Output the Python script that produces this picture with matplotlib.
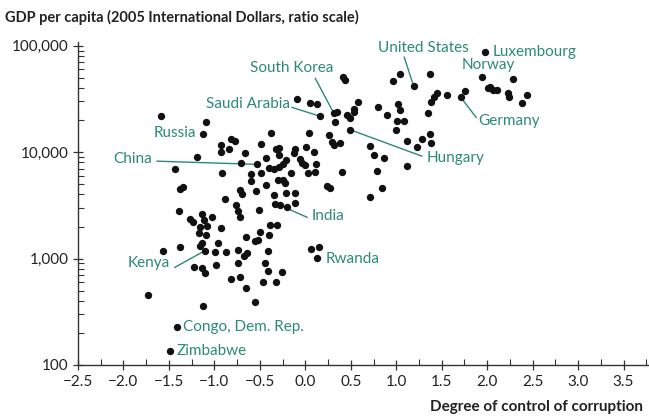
import matplotlib
matplotlib.use("Agg")
import matplotlib.pyplot as plt
from matplotlib.ticker import FixedLocator, FuncFormatter, LogLocator, MultipleLocator, NullFormatter

plt.rcParams['font.family'] = ['Lato', 'DejaVu Sans']

# control of corruption index and GDP per capita (2005 intl $)
corruption = [
    -1.586, -1.091, -1.129, -0.377, -0.923, -0.813, -0.769, -0.926, -0.835, -0.667,
    -0.484, -0.326, -0.289, -0.293, -0.432, -1.195, -0.703, -0.527, -0.209, -1.432,
    -0.920, -0.601, -0.403, -0.348, -0.293, -0.245, -0.487, -0.601, -0.429, -0.304,
    -0.245, -1.348, -1.374, -0.722, -0.696, -0.538, -0.348, -0.209, -0.879, -0.758,
    -1.385, -1.264, -1.234, -1.135, -1.118, -1.030, -0.736, -0.722, -0.513, -0.330,
    -0.275, -0.201, -0.385, -0.311, -0.923, -1.154, -1.077, -1.173, -1.096, -0.656,
    -0.495, -0.403, -0.549, -0.524, -1.135, -1.154, -0.959, -1.564, -1.381, -1.107,
    -0.989, -0.876, -0.740, -0.641, -0.670, -0.414, -0.744, -0.978, -1.227, -1.135,
    -1.099, -0.440, -0.414, -0.256, -0.821, -0.722, -0.469, -0.326, -0.652, -0.557,
    -1.124, -1.410, -1.484, -1.733, 0.157, 0.311, 0.348, 0.330, 0.458, 0.495,
    0.531, 0.487, 0.898, 0.044, 0.256, 0.293, 0.311, 0.377, 0.707, 0.751,
    0.868, -0.110, -0.121, 0.011, 0.091, -0.063, -0.036, 0.000, 0.118, 0.110,
    0.025, -0.157, 0.403, 0.788, -0.220, 0.238, 0.275, 0.843, 0.707, -0.110,
    -0.110, 0.414, 0.440, -0.091, 0.047, 0.129, 0.579, 0.531, 0.795, 1.014,
    1.044, 1.008, 1.000, 1.088, 0.959, 1.044, 1.190, 1.366, 1.447, 1.410,
    1.381, 1.557, 1.348, 1.118, 1.227, 1.282, 1.374, 1.381, 1.118, 1.758,
    1.711, 1.978, 1.942, 2.033, 2.069, 2.107, 2.014, 2.282, 2.234, 2.242,
    2.443, 2.381, 0.066, 0.146, 0.129,
]
gdp = [
    21900, 19000, 14700, 15000, 11700, 13200, 12600, 10100, 10600, 9850,
    11900, 10600, 11000, 9370, 8840, 8980, 7830, 7670, 8410, 6880,
    6310, 6180, 7030, 6880, 7280, 7710, 6310, 5380, 4870, 5460,
    5460, 4720, 4520, 4400, 4030, 4300, 3970, 4090, 3600, 3180,
    2790, 2360, 2220, 2600, 2300, 2440, 2790, 2440, 2850, 3250,
    3160, 3060, 2060, 2060, 1920, 1990, 2020, 1750, 1660, 1580,
    1760, 1660, 1470, 1490, 1390, 1310, 1390, 1180, 1290, 1180,
    1140, 1140, 1200, 1120, 1060, 1180, 913, 869, 838, 809,
    736, 901, 763, 742, 642, 675, 605, 598, 532, 393,
    360, 229, 136, 451, 21800, 23400, 23900, 19300, 22300, 20700,
    23900, 16300, 22300, 15000, 14400, 12500, 11600, 12100, 11400, 9370,
    8840, 10800, 9720, 11200, 9930, 8540, 7830, 7550, 7670, 6530,
    6390, 6390, 6450, 6630, 5080, 4800, 4560, 4560, 3750, 4090,
    3300, 50900, 47400, 31400, 29000, 28200, 29300, 25200, 26300, 28200,
    24800, 19700, 16300, 19700, 46700, 53700, 42000, 53700, 35600, 33000,
    29700, 34300, 23100, 12800, 11100, 13200, 14800, 12100, 7390, 37700,
    32600, 86300, 50300, 41000, 38200, 38200, 39600, 48400, 35600, 33000,
    34100, 28700, 1220, 1290, 1020,
]

# country labels: name, text x, text y, alignment, point index (None = no leader), leader start
label_names = ["United States", "Luxembourg", "Norway", "South Korea", "Saudi Arabia",
               "Russia", "China", "Hungary", "Germany", "India", "Rwanda", "Kenya",
               "Congo, Dem. Rep.", "Zimbabwe"]
label_x = [1.297, 2.055, 2.011, 0.308, -0.165, -1.198, -1.681, 1.330, 1.901, 0.074,
           0.227, -1.495, -1.341, -1.418]
label_y = [94800, 86900, 65600, 61500, 28200, 15100, 8530, 8730, 19700, 2510,
           1000, 901, 228, 135]
label_ha = ["center", "left", "center", "right", "right", "right", "right", "left",
            "left", "left", "left", "right", "left", "left"]
label_point = [146, None, None, 95, 94, None, 17, 101, 160, 50, None, 69, None, None]
leader_x = [1.088, None, None, 0.110, -0.146, None, -1.630, 1.282, 1.879, 0.019,
            None, -1.436, None, None]
leader_y = [78000, None, None, 49200, 26300, None, 8220, 9160, 21200, 2440,
            None, 826, None, None]

teal = '#2b8a78'

fig = plt.figure(figsize=(6.49, 4.19), dpi=100)
ax = fig.add_axes([0.1202, 0.1289, 0.8798, 0.7716])

ax.scatter(corruption, gdp, s=28, color='#111111', linewidths=0, zorder=3)

for i, name in enumerate(label_names):
    ax.text(label_x[i], label_y[i], name, ha=label_ha[i], va='center',
            color=teal, fontsize=11, zorder=4)
    if label_point[i] is not None:
        p = label_point[i]
        ax.plot([leader_x[i], corruption[p]], [leader_y[i], gdp[p]],
                color=teal, lw=1.0, zorder=2)

ax.set_yscale('log')
ax.set_xlim(-2.5, 3.78)
ax.set_ylim(100, 109000)

ax.spines['top'].set_visible(False)
ax.spines['right'].set_visible(False)
for s in ['left', 'bottom']:
    ax.spines[s].set_color('#333333')
    ax.spines[s].set_linewidth(1.0)

ax.xaxis.set_major_locator(FixedLocator([-2.5, -2.0, -1.5, -1.0, -0.5, 0.0, 0.5, 1.0,
                                         1.5, 2.0, 2.5, 3.0, 3.5]))
ax.xaxis.set_minor_locator(MultipleLocator(0.25))
ax.xaxis.set_major_formatter(FuncFormatter(
    lambda v, pos: f"{round(v, 1):.1f}".replace('-', '\u2212')))
ax.yaxis.set_major_locator(FixedLocator([100, 1000, 10000, 100000]))
ax.yaxis.set_minor_locator(LogLocator(base=10, subs=range(2, 10)))
ax.yaxis.set_minor_formatter(NullFormatter())
ax.yaxis.set_major_formatter(FuncFormatter(lambda v, pos: f"{v:,.0f}"))

ax.tick_params(axis='both', which='major', direction='inout', length=7, width=0.9,
               color='#333333', labelsize=11, labelcolor='#222222')
ax.tick_params(axis='both', which='minor', direction='in', length=4, width=0.8,
               color='#333333')
ax.tick_params(axis='x', which='major', pad=4)

fig.text(0.008, 0.958, "GDP per capita (2005 International Dollars, ratio scale)",
         fontsize=10.5, fontweight='bold', color='#222222', ha='left', va='center')
fig.text(0.991, 0.029, "Degree of control of corruption",
         fontsize=11, fontweight='bold', color='#222222', ha='right', va='center')

fig.savefig("out.png", dpi=100)
